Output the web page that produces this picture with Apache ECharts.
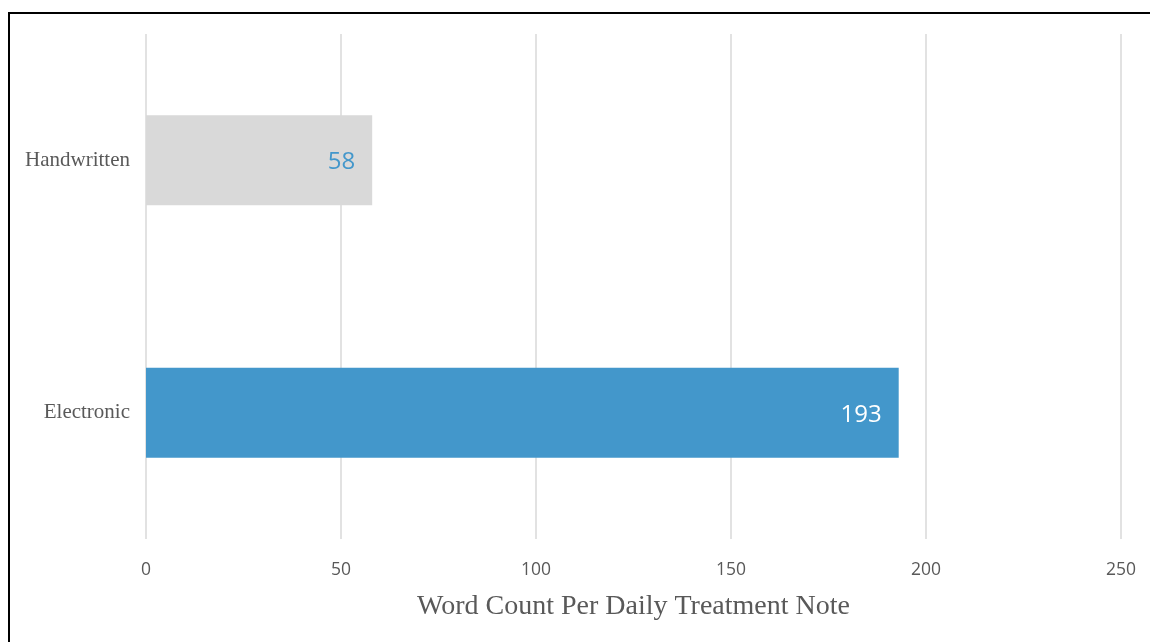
<!DOCTYPE html>
<html>
<head>
<meta charset="utf-8">
<script src="https://cdn.jsdelivr.net/npm/echarts@6/dist/echarts.min.js"></script>
<style>
  html, body { margin: 0; padding: 0; background: #fff; }
  #chart { width: 1150px; height: 642px; }
</style>
</head>
<body>
<div id="chart"></div>
<script>
// Note types (bottom to top on the category axis)
const categories = ['Electronic', 'Handwritten'];
// Average words per daily treatment note
const wordCounts = [193, 58];
const barColors = ['#4397cb', '#d9d9d9'];
const labelColors = ['#ffffff', '#4397cb'];
const axisTitle = 'Word Count Per Daily Treatment Note';

const chart = echarts.init(document.getElementById('chart'), null, { renderer: 'canvas' });

chart.setOption({
  backgroundColor: '#ffffff',
  animation: false,
  graphic: [{
    type: 'rect',
    shape: { x: 9, y: 13, width: 1300, height: 800 },
    style: { fill: 'none', stroke: '#000000', lineWidth: 2 },
    silent: true,
    z: 100
  }],
  grid: { left: 146, right: 29, top: 34, bottom: 103, containLabel: false },
  xAxis: {
    type: 'value',
    min: 0,
    max: 250,
    interval: 50,
    axisLine: { show: false },
    axisTick: { show: false },
    splitLine: { show: true, lineStyle: { color: '#d9d9d9', width: 1.5 } },
    axisLabel: {
      color: '#595959',
      fontFamily: 'Open Sans',
      fontSize: 17.5,
      margin: 22
    },
    name: axisTitle,
    nameLocation: 'middle',
    nameGap: 54,
    nameTextStyle: {
      color: '#595959',
      fontFamily: 'Liberation Serif',
      fontSize: 28
    }
  },
  yAxis: {
    type: 'category',
    data: categories,
    axisLine: { show: false },
    axisTick: { show: false },
    axisLabel: {
      color: '#595959',
      fontFamily: 'Liberation Serif',
      fontSize: 21,
      margin: 16
    }
  },
  series: [{
    type: 'bar',
    data: wordCounts.map((v, i) => ({
      value: v,
      itemStyle: { color: barColors[i] },
      label: { color: labelColors[i] }
    })),
    barWidth: 90,
    label: {
      show: true,
      position: 'insideRight',
      distance: 17,
      fontFamily: 'Open Sans',
      fontSize: 24,
      fontWeight: 500,
      offset: [0, 2]
    }
  }]
});
</script>
</body>
</html>
